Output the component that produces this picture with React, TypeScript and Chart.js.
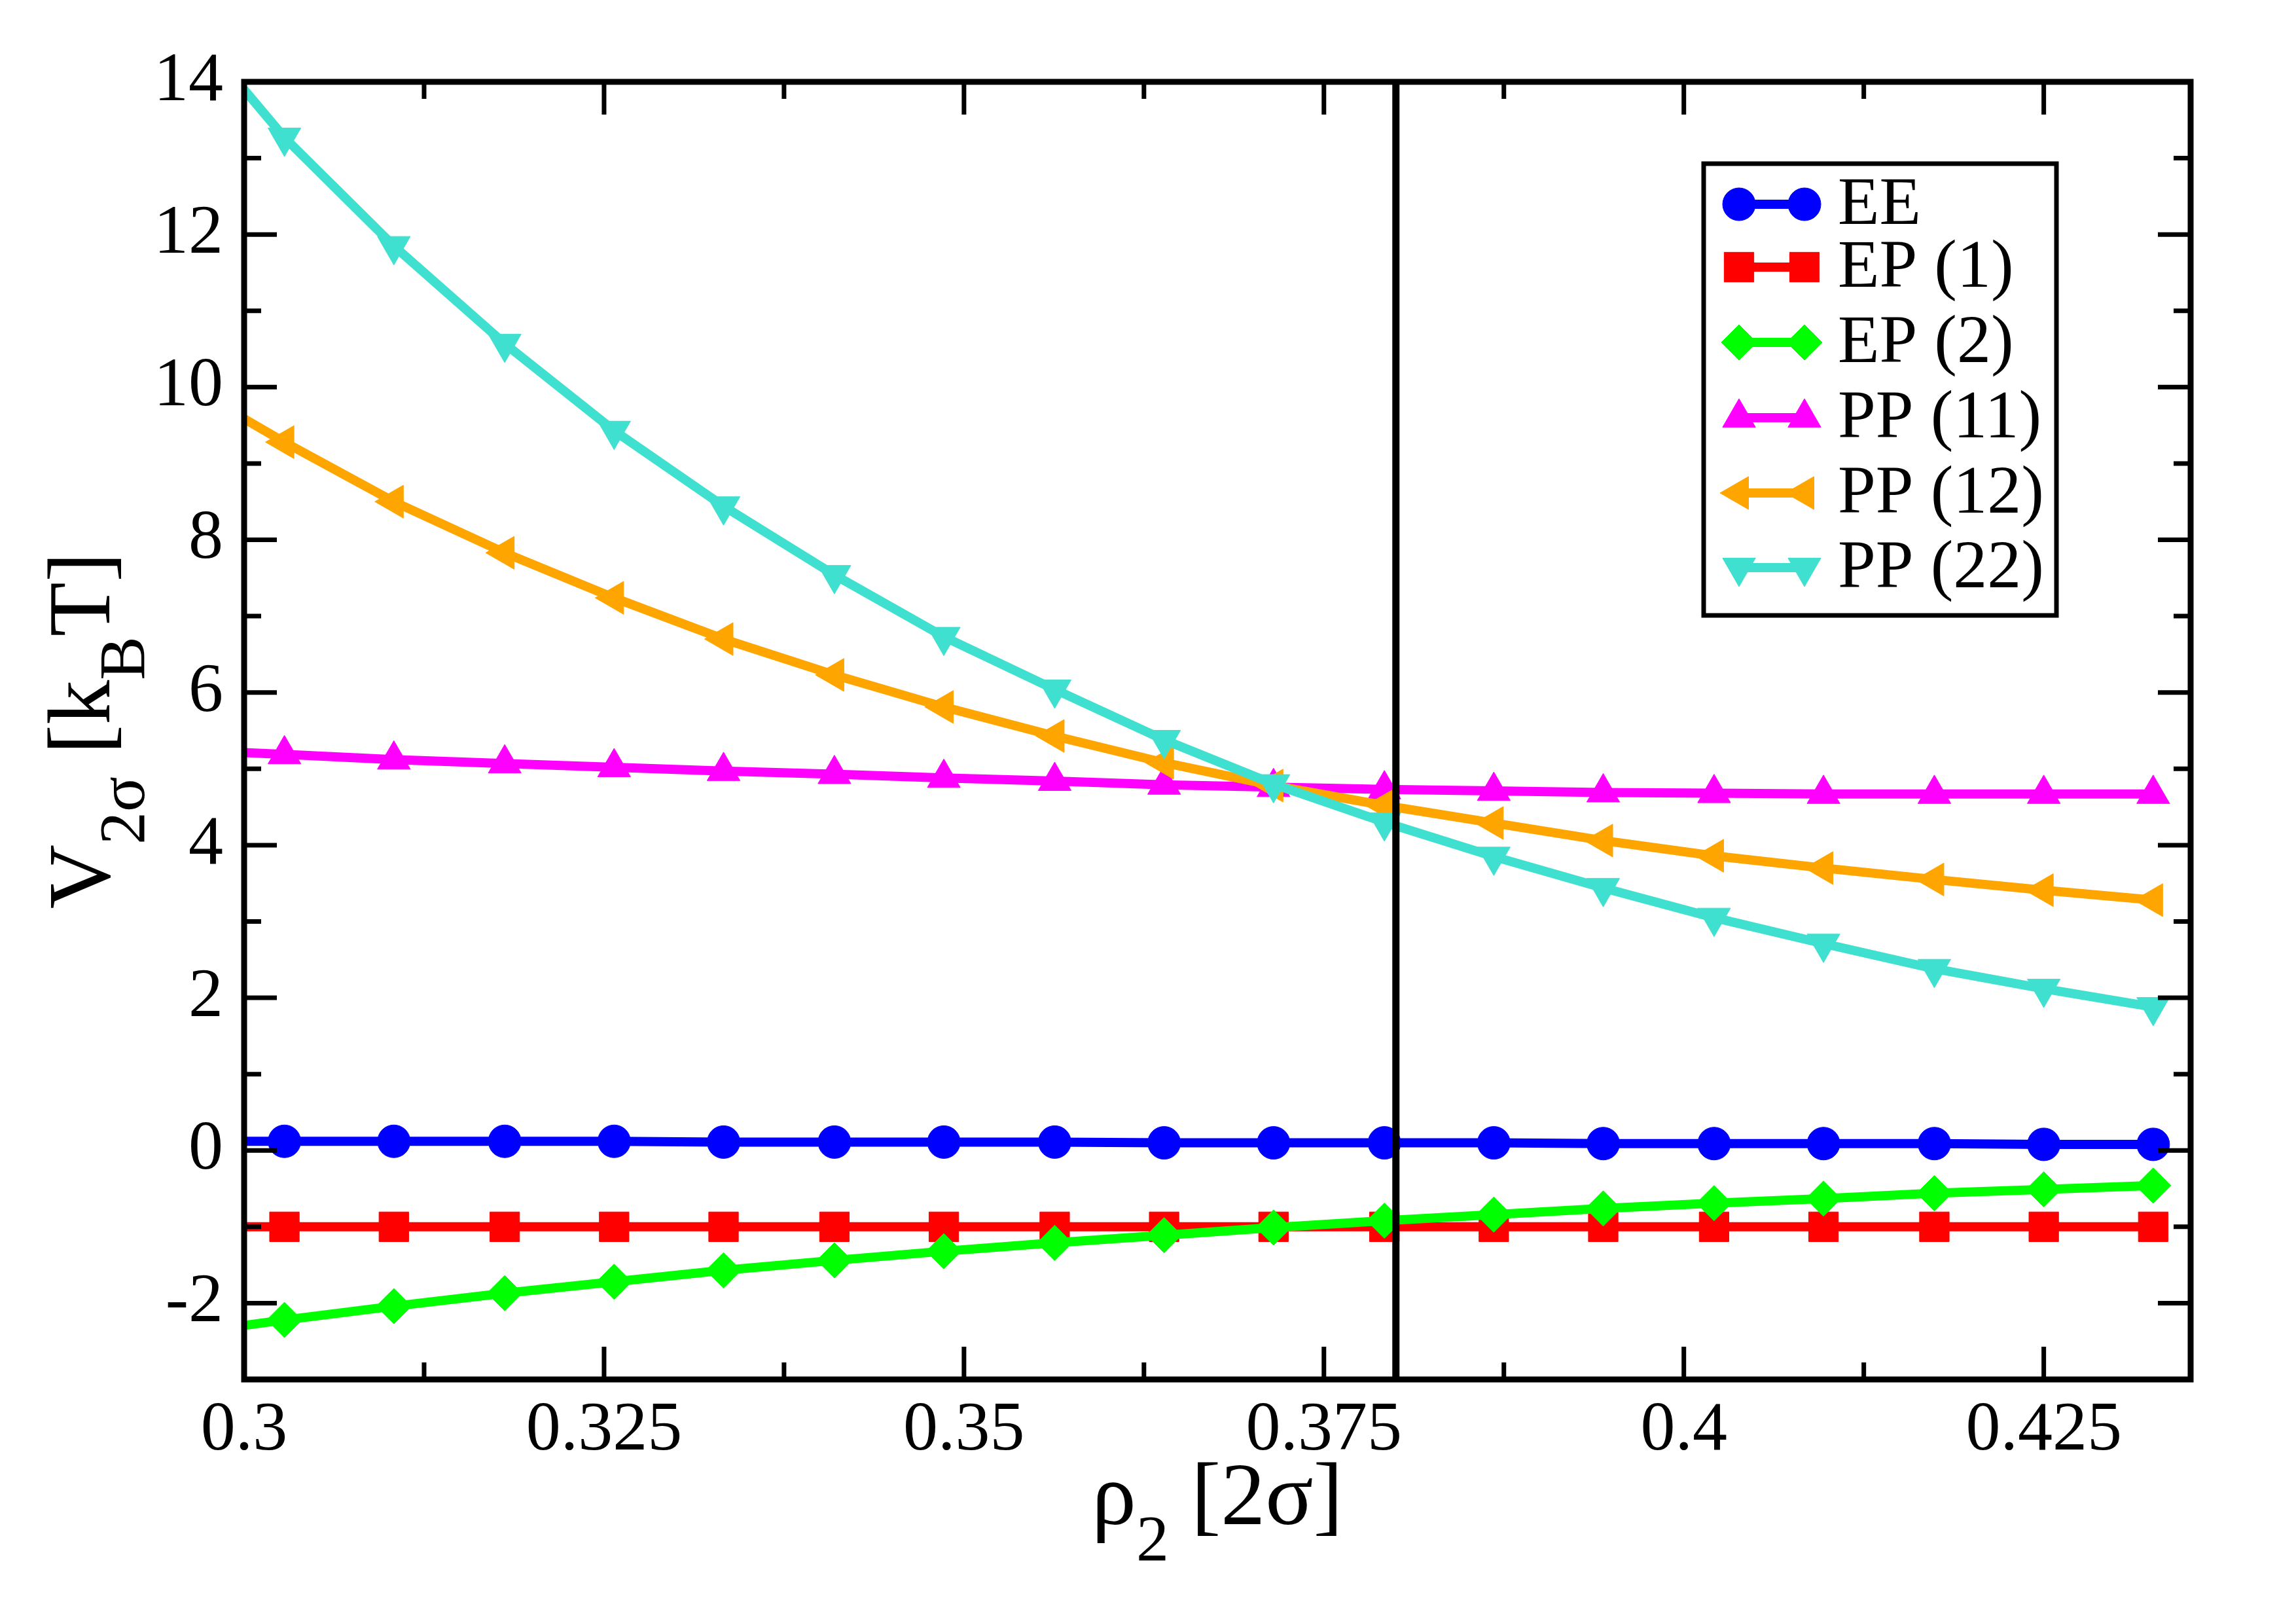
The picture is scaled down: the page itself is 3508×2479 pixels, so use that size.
import { useEffect, useRef } from 'react'
import { Chart, registerables } from 'chart.js'
import { drawPoint } from 'chart.js/helpers'

Chart.register(...registerables)

// rho_2 of every sample (the first one lies just left of the frame, the line enters from it)
const rho = [
  0.2951, 0.3028, 0.3104, 0.3181, 0.3257, 0.3333, 0.341, 0.3486, 0.3563, 0.3639,
  0.3715, 0.3792, 0.3868, 0.3944, 0.4021, 0.4097, 0.4174, 0.425, 0.4326,
]

const eeValues = [
  0.12, 0.12, 0.12, 0.12, 0.12, 0.11, 0.11, 0.11, 0.11, 0.1,
  0.1, 0.1, 0.1, 0.09, 0.09, 0.09, 0.09, 0.08, 0.08,
]
const ep1Values = [
  -1.0, -1.0, -1.0, -1.0, -1.0, -1.0, -1.0, -1.0, -1.0, -1.0,
  -1.0, -1.0, -1.0, -1.0, -1.0, -1.0, -1.0, -1.0, -1.0,
]
const ep2Values = [
  -2.42, -2.22, -2.04, -1.87, -1.72, -1.57, -1.44, -1.32, -1.21, -1.11,
  -1.01, -0.92, -0.84, -0.76, -0.69, -0.63, -0.56, -0.51, -0.46,
]
const pp11Values = [
  5.25, 5.19, 5.12, 5.07, 5.02, 4.97, 4.93, 4.88, 4.84, 4.79,
  4.76, 4.73, 4.71, 4.69, 4.68, 4.67, 4.67, 4.67, 4.67,
]
const pp12Values = [
  10.12, 9.28, 8.5, 7.83, 7.24, 6.7, 6.23, 5.81, 5.43, 5.08,
  4.78, 4.52, 4.29, 4.06, 3.86, 3.7, 3.55, 3.41, 3.28,
]
const pp22Values = [
  15.0, 13.27, 11.85, 10.57, 9.43, 8.44, 7.54, 6.73, 6.04, 5.38,
  4.8, 4.3, 3.85, 3.44, 3.05, 2.71, 2.38, 2.12, 1.88,
]

const markerRho = 0.38

const xMajorTicks = [0.3, 0.325, 0.35, 0.375, 0.4, 0.425]
const xMinorTicks = [0.3125, 0.3375, 0.3625, 0.3875, 0.4125]
const xTickLabels = ['0.3', '0.325', '0.35', '0.375', '0.4', '0.425']
const yMajorTicks = [-2, 0, 2, 4, 6, 8, 10, 12, 14]
const yMinorTicks = [-3, -1, 1, 3, 5, 7, 9, 11, 13]
const yTickLabels = ['-2', '0', '2', '4', '6', '8', '10', '12', '14']

const series = [
  { label: 'EE', values: eeValues, color: '#0000ff', pointStyle: 'circle', rotation: 0, radius: 25 },
  { label: 'EP (1)', values: ep1Values, color: '#ff0000', pointStyle: 'rect', rotation: 0, radius: 32 },
  { label: 'EP (2)', values: ep2Values, color: '#00ff00', pointStyle: 'rectRot', rotation: 0, radius: 27 },
  { label: 'PP (11)', values: pp11Values, color: '#ff00ff', pointStyle: 'triangle', rotation: 0, radius: 29 },
  { label: 'PP (12)', values: pp12Values, color: '#ffa500', pointStyle: 'triangle', rotation: 270, radius: 29 },
  { label: 'PP (22)', values: pp22Values, color: '#40e0d0', pointStyle: 'triangle', rotation: 180, radius: 29 },
]

const FONT = '"Liberation Serif", "Times New Roman", serif'
const W = 3508
const H = 2479

const near = (list: number[], v: number) => list.findIndex((t) => Math.abs(t - v) < 1e-9)

// inward ticks on all four sides + the frame
const framePlugin = {
  id: 'frame',
  afterDatasetsDraw(chart: any) {
    const { ctx, chartArea: a } = chart
    const xs = chart.scales.x
    const ys = chart.scales.y
    ctx.save()
    ctx.strokeStyle = '#000'
    ctx.lineWidth = 7
    ctx.beginPath()
    for (const t of xs.ticks) {
      const px = xs.getPixelForValue(t.value)
      const len = near(xMajorTicks, t.value) >= 0 ? 50 : 26
      ctx.moveTo(px, a.bottom)
      ctx.lineTo(px, a.bottom - len)
      ctx.moveTo(px, a.top)
      ctx.lineTo(px, a.top + len)
    }
    for (const t of ys.ticks) {
      const py = ys.getPixelForValue(t.value)
      const len = near(yMajorTicks, t.value) >= 0 ? 50 : 26
      ctx.moveTo(a.left, py)
      ctx.lineTo(a.left + len, py)
      ctx.moveTo(a.right, py)
      ctx.lineTo(a.right - len, py)
    }
    ctx.stroke()
    ctx.lineWidth = 9
    ctx.strokeRect(a.left, a.top, a.right - a.left, a.bottom - a.top)
    ctx.restore()
  },
}

const legendPlugin = {
  id: 'boxLegend',
  afterDraw(chart: any) {
    const ctx = chart.ctx
    const baselines = [342, 438, 553, 668, 783, 897]
    ctx.save()
    ctx.fillStyle = '#fff'
    ctx.fillRect(2603, 250, 539, 690)
    ctx.strokeStyle = '#000'
    ctx.lineWidth = 7
    ctx.strokeRect(2603, 250, 539, 690)
    series.forEach((s, i) => {
      const cy = baselines[i] - 30
      ctx.strokeStyle = s.color
      ctx.fillStyle = s.color
      ctx.lineWidth = 14
      ctx.beginPath()
      ctx.moveTo(2657, cy)
      ctx.lineTo(2757, cy)
      ctx.stroke()
      ctx.lineWidth = 1
      const opts = { pointStyle: s.pointStyle, rotation: s.rotation, radius: s.radius, borderWidth: 1 }
      drawPoint(ctx, opts as any, 2657, cy)
      drawPoint(ctx, opts as any, 2757, cy)
      ctx.fillStyle = '#000'
      ctx.font = `104px ${FONT}`
      ctx.textAlign = 'left'
      ctx.textBaseline = 'alphabetic'
      ctx.fillText(s.label, 2808, baselines[i])
    })
    ctx.restore()
  },
}

type Part = { text: string; size: number; dy: number }

function drawRich(ctx: CanvasRenderingContext2D, parts: Part[], cx: number, baseline: number) {
  let total = 0
  for (const p of parts) {
    ctx.font = `${p.size}px ${FONT}`
    total += ctx.measureText(p.text).width
  }
  let x = cx - total / 2
  for (const p of parts) {
    ctx.font = `${p.size}px ${FONT}`
    ctx.fillText(p.text, x, baseline + p.dy)
    x += ctx.measureText(p.text).width
  }
}

const titlePlugin = {
  id: 'richTitles',
  afterDraw(chart: any) {
    const { ctx, chartArea: a } = chart
    ctx.save()
    ctx.fillStyle = '#000'
    ctx.textAlign = 'left'
    ctx.textBaseline = 'alphabetic'
    drawRich(
      ctx,
      [
        { text: 'ρ', size: 136, dy: 0 },
        { text: '2', size: 100, dy: 55 },
        { text: ' [2σ]', size: 136, dy: 0 },
      ],
      (a.left + a.right) / 2,
      2328
    )
    ctx.translate(167, (a.top + a.bottom) / 2)
    ctx.rotate(-Math.PI / 2)
    drawRich(
      ctx,
      [
        { text: 'V', size: 136, dy: 0 },
        { text: '2σ', size: 100, dy: 53 },
        { text: ' [k', size: 136, dy: 0 },
        { text: 'B', size: 100, dy: 53 },
        { text: 'T]', size: 136, dy: 0 },
      ],
      0,
      0
    )
    ctx.restore()
  },
}

export default function App() {
  const canvasRef = useRef<HTMLCanvasElement>(null)

  useEffect(() => {
    if (!canvasRef.current) return
    const chart = new Chart(canvasRef.current, {
      type: 'line',
      data: {
        datasets: [
          {
            label: 'rho marker',
            data: [
              { x: markerRho, y: -3 },
              { x: markerRho, y: 14 },
            ],
            borderColor: '#000',
            borderWidth: 11,
            pointRadius: 0,
            order: 0,
            clip: 0,
          } as any,
          ...series.map((s, i) => ({
            label: s.label,
            data: rho.map((r, j) => ({ x: r, y: s.values[j] })),
            borderColor: s.color,
            backgroundColor: s.color,
            borderWidth: 14,
            tension: 0,
            pointStyle: s.pointStyle,
            pointRotation: s.rotation,
            pointRadius: s.radius,
            pointBackgroundColor: s.color,
            pointBorderColor: s.color,
            pointBorderWidth: 1,
            order: series.length - i,
            clip: 0,
          })),
        ],
      },
      options: {
        animation: false,
        responsive: false,
        devicePixelRatio: 1,
        events: [],
        layout: { padding: { left: 0, top: 125, right: W - 3347, bottom: 0 } },
        plugins: {
          legend: { display: false },
          tooltip: { enabled: false },
          title: { display: false },
        },
        scales: {
          x: {
            type: 'linear',
            min: 0.3,
            max: 0.4352,
            afterBuildTicks: (scale: any) => {
              scale.ticks = [...xMajorTicks, ...xMinorTicks].sort((p, q) => p - q).map((v) => ({ value: v }))
            },
            afterFit: (scale: any) => {
              scale.height = H - 2107
            },
            grid: { display: false },
            border: { display: false },
            ticks: {
              autoSkip: false,
              maxRotation: 0,
              padding: 8,
              color: '#000',
              font: { family: FONT, size: 106 },
              callback: (value: any) => {
                const k = near(xMajorTicks, Number(value))
                return k >= 0 ? xTickLabels[k] : ''
              },
            },
          },
          y: {
            type: 'linear',
            min: -3,
            max: 14,
            afterBuildTicks: (scale: any) => {
              scale.ticks = [...yMajorTicks, ...yMinorTicks].sort((p, q) => p - q).map((v) => ({ value: v }))
            },
            afterFit: (scale: any) => {
              scale.width = 373
            },
            grid: { display: false },
            border: { display: false },
            ticks: {
              autoSkip: false,
              padding: 24,
              color: '#000',
              font: { family: FONT, size: 106 },
              callback: (value: any) => {
                const k = near(yMajorTicks, Number(value))
                return k >= 0 ? yTickLabels[k] : ''
              },
            },
          },
        },
      },
      plugins: [framePlugin, legendPlugin, titlePlugin],
    } as any)
    return () => {
      chart.destroy()
    }
  }, [])

  return (
    <div style={{ position: 'absolute', left: 0, top: 0, width: W, height: H, background: '#fff' }}>
      <canvas ref={canvasRef} width={W} height={H} style={{ display: 'block' }} />
    </div>
  )
}
